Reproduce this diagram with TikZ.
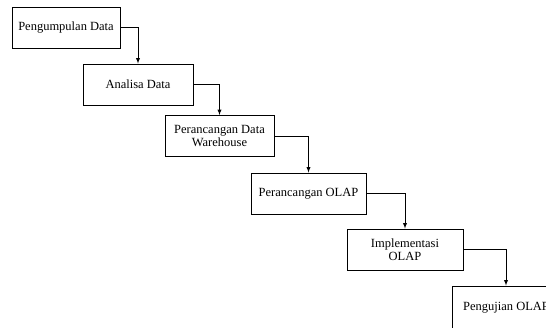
\documentclass[tikz,border=0pt]{standalone}
\usepackage{fontspec}
\setmainfont{Liberation Serif}
\usetikzlibrary{arrows}

\begin{document}
\begin{tikzpicture}[x=1pt, y=-1pt]

		\tikzstyle{tahap}  = [rectangle, draw, line width=0.9pt, inner sep=2pt, align=center, font=\fontsize{12.5}{13}\selectfont, minimum height=41pt]
		\tikzstyle{alur}  = [draw, line width=0.9pt, -latex]
		\useasboundingbox (0,0) rectangle (546,328);
		\clip (0,0) rectangle (546,328);

		%%Tahapan
		\node [tahap, minimum width=108pt](kumpul) at (66, 27.5) {Pengumpulan Data};
		\node [tahap, minimum width=110pt](analisa) at (138, 84.5) {Analisa Data};
		\node [tahap, minimum width=109pt](dw) at (219.5, 136) {Perancangan Data\\Warehouse};
		\node [tahap, minimum width=115pt](olap) at (308.5, 193.5) {Perancangan OLAP};
		\node [tahap, minimum width=116pt](impl) at (405, 249.5) {Implementasi\\OLAP};
		\node [tahap, minimum width=108pt, minimum height=44pt](uji) at (506, 308) {Pengujian OLAP};

		%%Alur antar tahap
		\draw [alur] (kumpul.east) -| (analisa.north);
		\draw [alur] (analisa.east) -| (dw.north);
		\draw [alur] (dw.east) -| (olap.north);
		\draw [alur] (olap.east) -| (impl.north);
		\draw [alur] (impl.east) -| (uji.north);
	\end{tikzpicture}
\end{document}
